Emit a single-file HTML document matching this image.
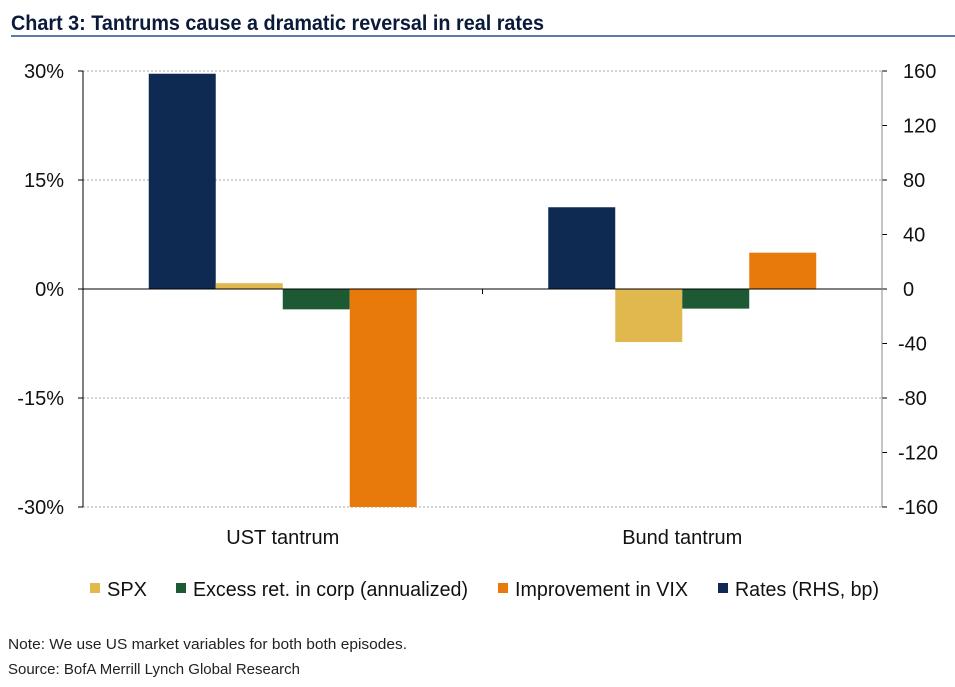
<!DOCTYPE html>
<html><head><meta charset="utf-8"><style>
body{margin:0;background:#fff;width:955px;height:687px;overflow:hidden}
svg{display:block;font-family:"Liberation Sans Narrow","Liberation Sans",sans-serif}
</style></head><body>
<svg id="c" width="955" height="687">
<text x="11" y="30" font-size="21" font-weight="bold" fill="#0a1a3a" textLength="533" lengthAdjust="spacingAndGlyphs">Chart 3: Tantrums cause a dramatic reversal in real rates</text>
<rect x="11" y="35" width="944" height="2" fill="#5a7aa8"/>
<g id="grid"></g><g id="bars"></g><g id="axes"></g>
<text x="8" y="649" font-size="15" fill="#222" textLength="399" lengthAdjust="spacingAndGlyphs">Note: We use US market  variables for both both episodes.</text>
<text x="8" y="674" font-size="15" fill="#222" textLength="292" lengthAdjust="spacingAndGlyphs">Source: BofA Merrill Lynch Global Research</text>
</svg>
<script>
const categories=["UST tantrum","Bund tantrum"];
const spx=[0.8,-7.3];
const excessRet=[-2.8,-2.7];
const vix=[-30,5];
const rates=[158,60];
const leftTicks=[30,15,0,-15,-30];
const rightTicks=[160,120,80,40,0,-40,-80,-120,-160];
const seriesNames=["SPX","Excess ret. in corp (annualized)","Improvement in VIX","Rates (RHS, bp)"];
const colors=["#e0b84e","#1d5a34","#e87a0c","#0e2a52"];
const X0=83,X1=882,Y0=71,Y1=507;
const yL=v=>Y0+(30-v)/60*(Y1-Y0);
const yR=v=>Y0+(160-v)/320*(Y1-Y0);
const NS="http://www.w3.org/2000/svg";
function mk(p,tag,a){const e=document.createElementNS(NS,tag);for(const k in a)e.setAttribute(k,a[k]);p.appendChild(e);return e;}
const G=document.getElementById('grid'),B=document.getElementById('bars'),A=document.getElementById('axes');
leftTicks.forEach(t=>{const y=yL(t);
 if(t!==0){const l=mk(G,'line',{x1:X0,x2:X1,y1:y,y2:y,stroke:'#aaa','stroke-dasharray':'2,2'});
 
 }
 mk(A,'line',{x1:X0-5,x2:X0,y1:y,y2:y,stroke:'#000'});
 const tx=mk(A,'text',{x:64,y:y+7,'font-size':20,'text-anchor':'end',fill:'#111'});tx.textContent=t+'%';
 
 });
rightTicks.forEach(t=>{const y=yR(t);
 mk(A,'line',{x1:X1,x2:X1+5,y1:y,y2:y,stroke:'#000'});
 const tx=mk(A,'text',{x:t<0?898:903,y:y+7,'font-size':20,fill:'#111'});tx.textContent=t;
 
 });
const cw=(X1-X0)/categories.length,bw=67;
categories.forEach((c,i)=>{const cx=X0+cw*(i+0.5);
 const order=[[rates[i],3,yR],[spx[i],0,yL],[excessRet[i],1,yL],[vix[i],2,yL]];
 order.forEach((o,j)=>{const x=cx-2*bw+j*bw;const y=o[2](o[0]),z=o[2](0);
  const r=mk(B,'rect',{x:x,y:Math.min(y,z),width:bw,height:Math.abs(y-z),fill:colors[o[1]]});
  
  });
 const tx=mk(A,'text',{x:cx,y:544,'font-size':20,'text-anchor':'middle',fill:'#111'});tx.textContent=c;
 
 });
mk(A,'line',{x1:X0,x2:X1,y1:yL(0),y2:yL(0),stroke:'#000'});
for(let i=1;i<categories.length;i++)mk(A,'line',{x1:X0+cw*i,x2:X0+cw*i,y1:yL(0),y2:yL(0)+5,stroke:'#000'});
mk(A,'line',{x1:X0,x2:X0,y1:Y0,y2:Y1,stroke:'#000'});
mk(A,'line',{x1:X1,x2:X1,y1:Y0,y2:Y1,stroke:'#888'});
const lx=[90,176,498,718],tw=[40,275,173,144];
seriesNames.forEach((n,i)=>{
 const r=mk(A,'rect',{x:lx[i],y:583,width:10,height:10,fill:colors[i]});
 
 
 const t=mk(A,'text',{x:lx[i]+17,y:596,'font-size':20,fill:'#111',textLength:tw[i],lengthAdjust:'spacingAndGlyphs'});t.textContent=n;
 
 });
</script>
</body></html>
